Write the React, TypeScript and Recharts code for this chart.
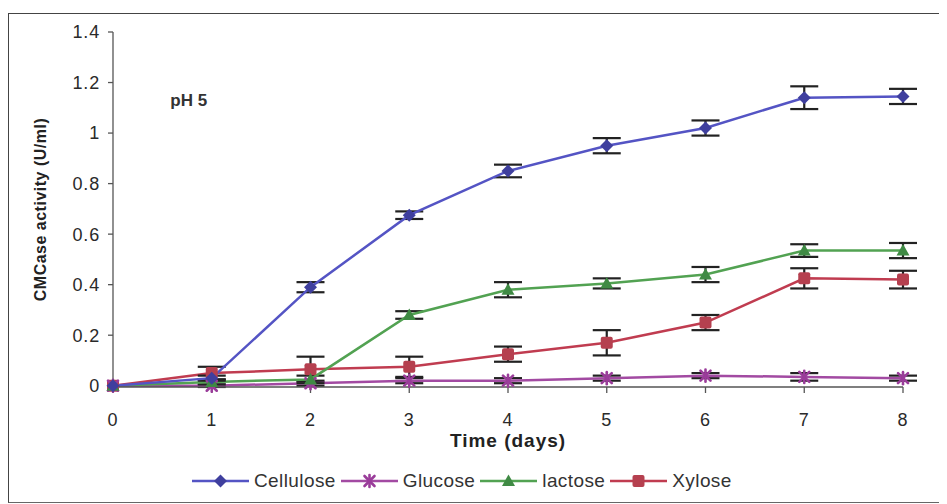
import React from 'react';
import {
  LineChart,
  Line,
  XAxis,
  YAxis,
  ErrorBar,
  Legend,
  ReferenceDot,
} from 'recharts';

// Sampling days
const days = [0, 1, 2, 3, 4, 5, 6, 7, 8];

// CMCase activity (U/ml) per carbon source
const cellulose = [0, 0.03, 0.39, 0.675, 0.85, 0.95, 1.02, 1.14, 1.145];
const glucose = [0, 0.0, 0.01, 0.02, 0.02, 0.03, 0.04, 0.035, 0.03];
const lactose = [0, 0.015, 0.025, 0.28, 0.38, 0.405, 0.44, 0.535, 0.535];
const xylose = [0, 0.05, 0.065, 0.075, 0.125, 0.17, 0.25, 0.425, 0.42];

// Standard deviations
const celluloseErr = [0, 0.01, 0.02, 0.015, 0.025, 0.03, 0.03, 0.045, 0.03];
const glucoseErr = [0, 0.005, 0.01, 0.01, 0.01, 0.01, 0.01, 0.015, 0.01];
const lactoseErr = [0, 0.01, 0.015, 0.015, 0.03, 0.02, 0.03, 0.025, 0.03];
const xyloseErr = [0, 0.025, 0.05, 0.04, 0.03, 0.05, 0.03, 0.04, 0.035];

const xTicks = [0, 1, 2, 3, 4, 5, 6, 7, 8];
const yTicks = [0, 0.2, 0.4, 0.6, 0.8, 1, 1.2, 1.4];

const seriesNames = ['Cellulose', 'Glucose', 'lactose', 'Xylose'];

const rows = days.map((d, i) => ({
  day: d,
  cellulose: cellulose[i],
  glucose: glucose[i],
  lactose: lactose[i],
  xylose: xylose[i],
  celluloseErr: celluloseErr[i],
  glucoseErr: glucoseErr[i],
  lactoseErr: lactoseErr[i],
  xyloseErr: xyloseErr[i],
}));

const COLORS = {
  cellulose: { line: '#5454c4', mark: '#3f3f9e' },
  glucose: { line: '#a24aa2', mark: '#9a3c9a' },
  lactose: { line: '#52a252', mark: '#3f8a44' },
  xylose: { line: '#c03c50', mark: '#b5404f' },
};

const FONT = '"Liberation Sans", Arial, sans-serif';

type MarkProps = { cx?: number; cy?: number; color: string };

const Diamond = ({ cx = 0, cy = 0, color }: MarkProps) => (
  <polygon
    points={`${cx},${cy - 6.5} ${cx + 6.5},${cy} ${cx},${cy + 6.5} ${cx - 6.5},${cy}`}
    fill={color}
  />
);

const Star = ({ cx = 0, cy = 0, color }: MarkProps) => (
  <g stroke={color} strokeWidth={2.6} strokeLinecap="round">
    <line x1={cx - 5} y1={cy - 5} x2={cx + 5} y2={cy + 5} />
    <line x1={cx - 5} y1={cy + 5} x2={cx + 5} y2={cy - 5} />
    <line x1={cx} y1={cy - 6} x2={cx} y2={cy + 6} />
  </g>
);

const Triangle = ({ cx = 0, cy = 0, color }: MarkProps) => (
  <polygon
    points={`${cx},${cy - 6.5} ${cx + 6.5},${cy + 5} ${cx - 6.5},${cy + 5}`}
    fill={color}
  />
);

const Square = ({ cx = 0, cy = 0, color }: MarkProps) => (
  <rect x={cx - 6} y={cy - 6} width={12} height={12} rx={2} fill={color} />
);

const markers = [
  (p: any) => <Diamond key={`c${p.index}`} cx={p.cx} cy={p.cy} color={COLORS.cellulose.mark} />,
  (p: any) => <Star key={`g${p.index}`} cx={p.cx} cy={p.cy} color={COLORS.glucose.mark} />,
  (p: any) => <Triangle key={`l${p.index}`} cx={p.cx} cy={p.cy} color={COLORS.lactose.mark} />,
  (p: any) => <Square key={`x${p.index}`} cx={p.cx} cy={p.cy} color={COLORS.xylose.mark} />,
];

const legendColors = [COLORS.cellulose, COLORS.glucose, COLORS.lactose, COLORS.xylose];
const legendMarks = [Diamond, Star, Triangle, Square];

const LegendContent = () => (
  <div
    style={{
      display: 'flex',
      alignItems: 'center',
      fontFamily: FONT,
      fontSize: 19,
      color: '#333',
      whiteSpace: 'nowrap',
    }}
  >
    {seriesNames.map((name, i) => {
      const Mark = legendMarks[i];
      return (
        <div key={name} style={{ display: 'flex', alignItems: 'center', marginRight: 5 }}>
          <svg width={57} height={20}>
            <line x1={0} y1={10} x2={57} y2={10} stroke={legendColors[i].line} strokeWidth={2.5} />
            <Mark cx={28.5} cy={10} color={legendColors[i].mark} />
          </svg>
          <span style={{ marginLeft: 5, letterSpacing: 0.4 }}>{name}</span>
        </div>
      );
    })}
  </div>
);

const tickStyle = { fill: '#2a2a2a', fontSize: 18, fontFamily: FONT, letterSpacing: 0.8 };

export default function App() {
  return (
    <div
      style={{
        marginTop: 5,
        width: 939,
        height: 488,
        borderLeft: '1.5px solid #444',
        borderTop: '1.5px solid #444',
        borderBottom: '1.5px solid #666',
        background: '#ffffff',
      }}
    >
      <LineChart
        width={938}
        height={488}
        data={rows}
        margin={{ top: 18, right: 44, left: 10, bottom: 27 }}
      >
        <XAxis
          dataKey="day"
          type="number"
          domain={[0, 8]}
          ticks={xTicks}
          allowDecimals={false}
          stroke="#555"
          strokeWidth={1.3}
          tickSize={6}
          tickMargin={20}
          tick={tickStyle}
          height={66}
          label={{
            value: 'Time (days)',
            position: 'insideBottom',
            offset: 6,
            style: { fontFamily: FONT, fontSize: 19, fontWeight: 700, fill: '#222', letterSpacing: 1 },
          }}
        />
        <YAxis
          type="number"
          domain={[0, 1.4]}
          ticks={yTicks}
          width={94}
          stroke="#555"
          strokeWidth={1.3}
          tickSize={5}
          tickMargin={8}
          tick={tickStyle}
          tickFormatter={(v: number) => String(Math.round(v * 10) / 10)}
          label={{
            value: 'CMCase activity (U/ml)',
            angle: -90,
            position: 'insideLeft',
            offset: 21,
            style: { textAnchor: 'middle', fontFamily: FONT, fontSize: 16, fontWeight: 700, fill: '#222', letterSpacing: 0.5 },
          }}
        />
        <ReferenceDot
          x={0.53}
          y={1.13}
          r={0}
          ifOverflow="visible"
          label={{
            value: 'pH 5',
            position: 'right',
            style: { fontFamily: FONT, fontSize: 17, fontWeight: 700, fill: '#333' },
          }}
        />
        <Legend
          verticalAlign="bottom"
          content={<LegendContent />}
          wrapperStyle={{ left: 183, top: 456, width: 600 }}
        />
        <Line
          name="Xylose"
          dataKey="xylose"
          stroke={COLORS.xylose.line}
          strokeWidth={2.5}
          dot={markers[3]}
          isAnimationActive={false}
        >
          <ErrorBar dataKey="xyloseErr" width={14} stroke="#222" strokeWidth={2.2} />
        </Line>
        <Line
          name="Glucose"
          dataKey="glucose"
          stroke={COLORS.glucose.line}
          strokeWidth={2.5}
          dot={markers[1]}
          isAnimationActive={false}
        >
          <ErrorBar dataKey="glucoseErr" width={14} stroke="#222" strokeWidth={2.2} />
        </Line>
        <Line
          name="lactose"
          dataKey="lactose"
          stroke={COLORS.lactose.line}
          strokeWidth={2.5}
          dot={markers[2]}
          isAnimationActive={false}
        >
          <ErrorBar dataKey="lactoseErr" width={14} stroke="#222" strokeWidth={2.2} />
        </Line>
        <Line
          name="Cellulose"
          dataKey="cellulose"
          stroke={COLORS.cellulose.line}
          strokeWidth={2.5}
          dot={markers[0]}
          isAnimationActive={false}
        >
          <ErrorBar dataKey="celluloseErr" width={14} stroke="#222" strokeWidth={2.2} />
        </Line>
      </LineChart>
    </div>
  );
}
